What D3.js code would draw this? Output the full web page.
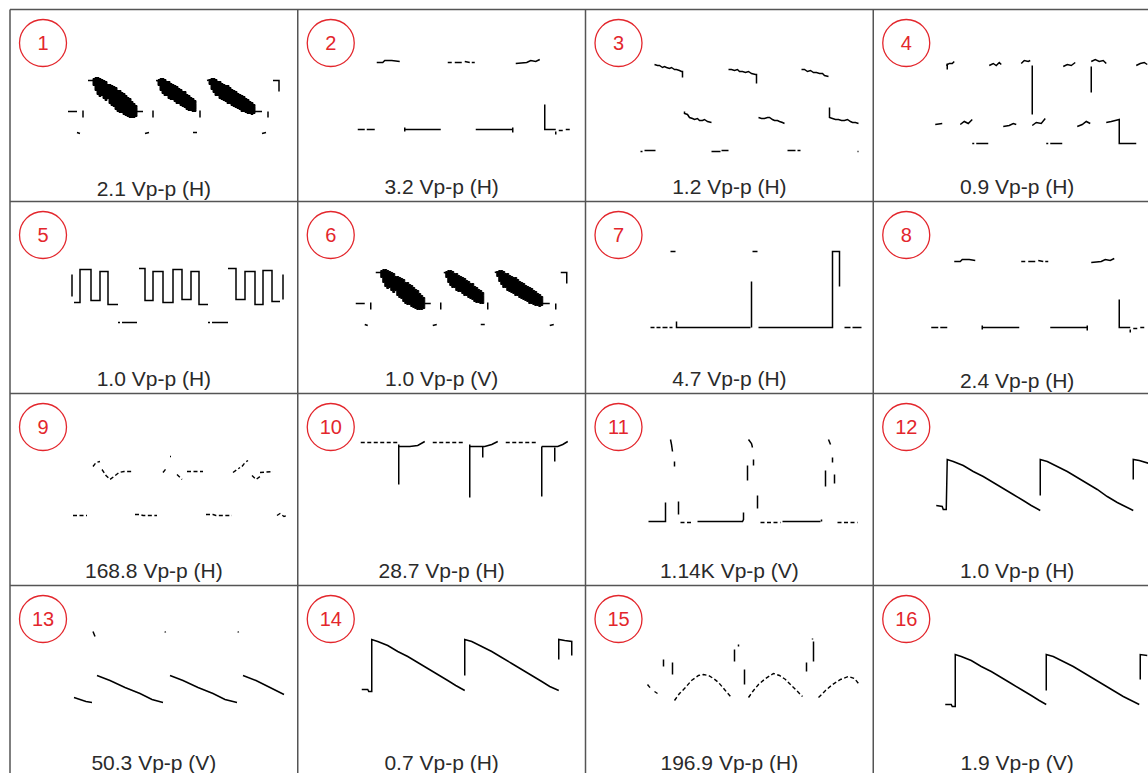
<!DOCTYPE html>
<html><head><meta charset="utf-8">
<script src="https://cdn.jsdelivr.net/npm/d3@7"></script>
<style>html,body{margin:0;padding:0;background:#fff;} svg{display:block;}</style>
</head><body><svg id="c" width="1148" height="773"></svg>
<script>
// ---------- DATA (time units 0..220, level units 0..120 per panel) ----------
const panelIds = d3.range(1, 17);
const panelLabels = ["2.1 Vp-p (H)", "3.2 Vp-p (H)", "1.2 Vp-p (H)", "0.9 Vp-p (H)",
  "1.0 Vp-p (H)", "1.0 Vp-p (V)", "4.7 Vp-p (H)", "2.4 Vp-p (H)",
  "168.8 Vp-p (H)", "28.7 Vp-p (H)", "1.14K Vp-p (V)", "1.0 Vp-p (H)",
  "50.3 Vp-p (V)", "0.7 Vp-p (H)", "196.9 Vp-p (H)", "1.9 Vp-p (V)"];

// noisy bursts: [t, top level, bottom level]
const bursts1 = [
  [[23,91,84],[25,92,79],[27,92,75],[29,91,73],[31,90,74],[33,89,71],[35,88,69],[37,85,71],[39,85,66],[41,84,64],[43,83,63],[45,82,60],[47,79,58],[49,79,57],[51,77,57],[53,76,55],[55,74,54],[57,72,53],[59,71,52],[61,68,52],[63,66,52],[65,64,53],[67,62,55]],
  [[88,90,84],[90,91,79],[92,91,76],[94,90,74],[96,88,74],[98,88,71],[100,86,70],[102,85,70],[104,84,68],[106,83,66],[108,81,66],[110,80,64],[112,78,63],[114,78,62],[116,75,60],[118,74,59],[120,72,59],[122,71,58],[124,69,58],[126,66,60]],
  [[139,90,85],[141,91,80],[143,91,77],[145,90,74],[147,88,74],[149,88,71],[151,86,70],[153,85,69],[155,84,68],[157,84,66],[159,82,66],[161,80,64],[163,79,63],[165,78,62],[167,76,61],[169,75,60],[171,74,58],[173,73,58],[175,71,57],[177,70,56],[179,68,56],[181,67,55],[183,65,56],[185,63,58]]
];
const bursts6 = [
  [[23,91,84],[25,92,79],[27,92,75],[29,91,73],[31,90,74],[33,89,71],[35,88,69],[37,85,71],[39,85,66],[41,84,64],[43,83,63],[45,82,60],[47,79,58],[49,79,57],[51,77,57],[53,76,55],[55,74,54],[57,72,53],[59,71,52],[61,68,52],[63,66,52],[65,64,53],[67,62,55]],
  [[88,90,84],[90,91,79],[92,91,76],[94,90,74],[96,88,74],[98,88,71],[100,86,70],[102,85,70],[104,84,68],[106,83,66],[108,81,66],[110,80,64],[112,78,63],[114,78,62],[116,75,60],[118,74,59],[120,72,59],[122,71,58],[124,69,58],[126,66,60]],
  [[139,90,85],[141,91,80],[143,91,77],[145,90,74],[147,88,74],[149,88,71],[151,86,70],[153,85,69],[155,84,68],[157,84,66],[159,82,66],[161,80,64],[163,79,63],[165,78,62],[167,76,61],[169,75,60],[171,74,58],[173,73,58],[175,71,57],[177,70,56],[179,68,56],[181,67,55],[183,65,56],[185,63,58]]
];

const trace1 = [
  [[-2,58],[7,58]], [[13,59],[13,52]], [[18,89],[25,89]], [[67,58],[73,58]], [[83,59],[83,52]],
  [[86,89],[92,88]], [[130,59],[130,52]], [[137,89],[141,90]], [[184,58],[192,58]], [[198,58],[198,52]],
  [[203,89],[209,89],[209,78]], [[7,37],[10,36]], [[75,36],[79,37]], [[123,37],[127,37]], [[192,36],[196,37]]
];
const trace2 = [
  [[19,107],[25,107],[27,109],[34,109],[42,108]],
  [[90,107],[94,107]], [[97,107],[104,107]], [[107,108],[112,107]], [[114,107],[117,107]],
  [[158,106],[169,107],[173,109],[178,108],[182,110]],
  [[0,40],[7,40]], [[9,40],[17,40]],
  [[47,42],[47,38]], [[47,40],[83,40]],
  [[118,40],[155,40]], [[155,42],[155,37]],
  [[187,65],[187,40],[198,40]], [[201,39],[205,39]], [[208,40],[212,40]], [[198,38],[198,35]]
];
const trace3 = [
  [[9,105],[12,104],[14,104],[17,102],[19,103],[21,102],[24,101],[26,102],[29,100],[31,100],[34,99],[36,98],[37,98],[37,92]],
  [[83,100],[86,100],[89,99],[92,100],[94,98],[97,98],[100,97],[103,98],[106,96],[110,95],[111,95],[111,86]],
  [[156,100],[159,100],[162,98],[165,99],[168,97],[171,97],[174,96],[177,96],[179,94],[183,93]],
  [[39,58],[39,56],[42,55],[44,52],[47,51],[49,50],[52,51],[54,49],[57,49],[59,50],[62,48],[66,47]],
  [[113,52],[116,51],[119,51],[122,52],[124,52],[127,50],[129,49],[132,49],[134,48],[137,47],[139,46]],
  [[184,62],[184,52],[187,51],[190,50],[193,50],[196,49],[199,49],[202,50],[205,48],[207,47],[210,47],[213,46]],
  [[-5,18],[-3,18]], [[-1,19],[10,19]], [[66,18],[75,18]], [[76,19],[83,19]],
  [[142,19],[150,19]], [[152,19],[155,19]], [[212,18],[213,18]]
];
const trace4 = [
  [[13,104],[16,106],[19,106],[21,108]], [[14,106],[14,100]],
  [[56,104],[60,106],[63,104],[66,107],[68,105]],
  [[88,106],[91,109],[95,108],[97,109]], [[99,104],[99,55]],
  [[130,103],[134,105],[138,104],[142,107]],
  [[158,108],[162,110],[166,108],[170,109],[173,106]], [[158,103],[158,77]],
  [[203,104],[207,106],[211,107],[214,105]],
  [[2,45],[9,46]], [[27,45],[31,48],[35,46],[39,50]], [[70,43],[76,44],[80,46],[83,45]],
  [[99,44],[103,47],[108,46],[112,51]], [[144,43],[149,45],[153,48],[157,46]],
  [[173,47],[178,48],[182,49],[186,50],[186,26],[203,26]],
  [[39,26],[41,26]], [[43,26],[55,26]], [[113,26],[115,26]], [[117,26],[129,26]]
];
const trace5 = [
  [[2,87],[2,65]],
  [[4,59],[10,59],[10,92],[21,92],[21,61],[30,61],[30,90],[38,90],[38,57],[48,57]],
  [[69,93],[75,93],[75,61],[83,61],[83,90],[93,90],[93,59],[103,59],[103,92],[112,92],[112,62],[121,62],[121,90],[129,90],[129,57],[138,57]],
  [[158,93],[166,93],[166,62],[175,62],[175,90],[185,90],[185,57],[193,57],[193,91],[202,91],[202,60],[210,60]],
  [[213,62],[213,87]],
  [[48,39],[50,39]], [[52,39],[67,39]], [[138,39],[140,39]], [[142,39],[158,39]]
];
const trace6 = [
  [[-2,58],[7,58]], [[13,59],[13,52]], [[18,89],[25,89]], [[67,58],[73,58]], [[83,59],[83,52]],
  [[86,89],[92,88]], [[130,59],[130,52]], [[137,89],[141,90]], [[184,58],[192,58]], [[198,58],[198,52]],
  [[203,89],[209,89],[209,78]], [[7,37],[10,36]], [[75,36],[79,37]], [[123,37],[127,37]], [[192,36],[196,37]]
];
const trace7 = [
  [[5,34],[9,34]], [[11,34],[15,34]], [[17,34],[22,34]], [[24,34],[27,34]],
  [[31,40],[31,34],[105,34]], [[106,80],[106,34]],
  [[113,34],[187,34],[187,110],[194,110],[194,75]],
  [[199,34],[205,34]], [[207,34],[216,34]],
  [[25,110],[30,110]], [[107,110],[112,110]]
];
const trace8 = [
  [[21,100],[27,100],[29,102],[36,102],[42,101]],
  [[88,100],[92,100]], [[95,100],[102,100]], [[105,101],[110,100]], [[112,100],[115,100]],
  [[158,99],[168,100],[172,102],[177,101],[181,103]],
  [[-2,34],[5,34]], [[7,34],[14,34]],
  [[49,36],[49,32]], [[49,34],[86,34]],
  [[117,34],[154,34]], [[154,36],[154,31]],
  [[186,62],[186,34],[197,34]], [[200,33],[204,33]], [[207,34],[211,34]], [[197,32],[197,29]]
];
const trace9 = [];
const dotted9 = [
  [[23,87],[26,91],[30,92]], [[32,84],[36,78],[40,74],[44,77],[49,81],[54,82],[63,82]],
  [[100,97],[101,97]], [[93,81],[97,86]], [[107,79],[112,74]], [[117,82],[133,82]],
  [[172,87],[175,91],[178,93]], [[163,81],[170,86]], [[182,78],[186,74],[190,77]], [[190,81],[203,82]],
  [[3,38],[17,38]], [[65,39],[70,39],[73,38],[87,38]], [[136,39],[143,39],[146,38],[162,38]],
  [[207,38],[210,40],[214,37],[217,38]]
];
const trace10 = [
  [[41,109],[41,69]], [[41,107],[52,107],[60,108],[67,112]],
  [[112,109],[112,56]], [[112,107],[127,107],[134,109],[140,112]], [[125,107],[125,96]],
  [[184,107],[184,57]], [[184,107],[200,107],[205,109],[210,112]], [[197,106],[197,92]]
];
const dotted10 = [[[3,111],[40,111]], [[75,111],[107,111]], [[148,111],[180,111]]];
const trace11 = [
  [[3,32],[20,32],[20,51]], [[33,52],[33,39]],
  [[52,32],[97,32],[98,34],[98,41]], [[112,58],[112,45]],
  [[137,32],[175,32]], [[176,34],[176,32]],
  [[25,114],[26,109],[27,102]], [[29,92],[29,87]],
  [[103,114],[106,110],[107,106]], [[108,94],[108,88]], [[102,88],[102,73]],
  [[183,114],[185,109]], [[187,96],[187,91]], [[180,83],[180,67]], [[189,79],[189,70]]
];
const dotted11 = [[[35,31],[48,31]], [[115,31],[135,31]], [[192,31],[212,31]]];
const trace12 = [
  [[3,48],[9,47],[10,44],[13,44],[14,94],[20,92],[30,88],[40,82],[50,77],[60,71],[70,65],[80,59],[90,53],[98,48],[107,43]],
  [[107,58],[107,94],[114,92],[124,87],[134,82],[144,76],[154,70],[164,64],[174,57],[184,51],[192,47],[200,43]],
  [[200,74],[200,94],[206,93],[216,90]]
];
const trace13 = [
  [[23,114],[25,109]], [[95,114],[95.5,113]], [[168,114],[168.5,113]],
  [[4,48],[10,46],[16,44],[22,43]],
  [[27,70],[40,65],[55,58],[70,52],[82,46],[93,43]],
  [[100,70],[113,65],[128,58],[143,52],[155,46],[167,43]],
  [[173,70],[186,65],[200,58],[214,51]]
];
const trace14 = [
  [[4,56],[10,56],[11,54],[14,54],[14,106],[20,104],[30,100],[40,94],[50,89],[60,83],[70,77],[80,71],[90,65],[98,60],[107,55]],
  [[107,70],[107,106],[114,104],[124,99],[134,94],[144,88],[154,82],[164,76],[174,70],[184,64],[192,59],[201,55]],
  [[201,86],[201,106],[207,105],[214,104],[214,90]]
];
const trace15 = [
  [[18,86],[18,79]], [[27,83],[27,71]], [[89,96],[89,84]], [[93,101],[93,99]], [[99,76],[99,61]],
  [[161,83],[161,74]], [[168,104],[168,84]], [[167,107],[167,106]]
];
const dotted15 = [
  [[2,61],[6,56]], [[9,54],[12,52]],
  [[29,45],[34,52],[40,58],[46,65],[53,70],[58,71],[63,70],[68,67],[73,63],[79,56],[85,49]],
  [[103,48],[108,55],[113,61],[120,67],[128,72],[134,70],[140,66],[148,58],[157,49]],
  [[173,48],[180,55],[187,61],[195,66],[203,69],[209,67],[213,62]]
];
const trace16 = [
  [[12,41],[18,41],[19,39],[22,39],[22,91],[28,89],[38,85],[48,79],[58,74],[68,68],[78,62],[88,56],[98,50],[106,45],[113,41]],
  [[113,55],[113,91],[120,89],[130,84],[140,79],[150,73],[160,67],[170,61],[180,55],[190,49],[198,45],[206,41]],
  [[207,66],[207,91],[214,90]]
];

const solidTraces = [trace1,trace2,trace3,trace4,trace5,trace6,trace7,trace8,trace9,trace10,trace11,trace12,trace13,trace14,trace15,trace16];
const dottedTraces = [[],[],[],[],[],[],[],[],dotted9,dotted10,dotted11,[],[],[],dotted15,[]];
const burstTraces = [bursts1,[],[],[],[],bursts6,[],[],[],[],[],[],[],[],[],[]];

// ---------- LAYOUT ----------
const gridX0 = 10, gridY0 = 9.5, cellW = 287.75, cellH = 192;
const labelDy = [2.5,0,0,0, 0,0,0,2.5, 0,0,0,0, 0,0,0,0];
const svg = d3.select("#c");
const defs = svg.append("defs");
const red = "#e3262c";
const font = "Liberation Sans, Arial, sans-serif";

const panels = panelIds.map((id, i) => ({
  id, col: i % 4, row: Math.floor(i / 4), label: panelLabels[i], dy: labelDy[i],
  solid: solidTraces[i], dotted: dottedTraces[i], bursts: burstTraces[i]
}));

panels.forEach(p => {
  const L = gridX0 + p.col * cellW, T = gridY0 + p.row * cellH;
  defs.append("clipPath").attr("id", "clip" + p.id)
    .append("rect").attr("x", L).attr("y", T).attr("width", cellW).attr("height", cellH);
  const x = d3.scaleLinear().domain([0, 220]).range([L + 60, L + 280]);
  const y = d3.scaleLinear().domain([0, 120]).range([T + 160, T + 40]);
  const line = d3.line().x(d => x(d[0])).y(d => y(d[1]));
  const area = d3.area().x(d => x(d[0])).y0(d => y(d[2])).y1(d => y(d[1])).curve(d3.curveStepAfter);
  const g = svg.append("g").attr("clip-path", `url(#clip${p.id})`);
  g.selectAll("path.burst").data(p.bursts).join("path").attr("class", "burst")
    .attr("d", area).attr("fill", "#000").attr("stroke", "#000").attr("stroke-width", 1);
  g.selectAll("path.solid").data(p.solid).join("path").attr("class", "solid")
    .attr("d", line).attr("fill", "none").attr("stroke", "#000").attr("stroke-width", 1.5);
  g.selectAll("path.dotted").data(p.dotted).join("path").attr("class", "dotted")
    .attr("d", line).attr("fill", "none").attr("stroke", "#000").attr("stroke-width", 1.4)
    .attr("stroke-dasharray", "4,2.5");

  // badge
  svg.append("circle").attr("cx", L + 33).attr("cy", T + 33.5).attr("r", 23.5)
    .attr("fill", "none").attr("stroke", red).attr("stroke-width", 1.3);
  svg.append("text").attr("x", L + 33).attr("y", T + 33.5).attr("dy", "0.36em")
    .attr("text-anchor", "middle").attr("font-family", font)
    .attr("font-size", 20).attr("fill", red).text(p.id);
  // label
  svg.append("text").attr("x", L + cellW / 2).attr("y", T + 184 + p.dy)
    .attr("text-anchor", "middle").attr("font-family", font)
    .attr("font-size", 21).attr("fill", "#2a2a2a").text(p.label);
});

// grid
const gridCols = d3.range(5), gridRows = d3.range(5);
svg.selectAll("line.v").data(gridCols).join("line").attr("class", "v")
  .attr("x1", d => gridX0 + d * cellW).attr("x2", d => gridX0 + d * cellW)
  .attr("y1", gridY0).attr("y2", gridY0 + 4 * cellH)
  .attr("stroke", "#555").attr("stroke-width", 1.5);
svg.selectAll("line.h").data(gridRows).join("line").attr("class", "h")
  .attr("y1", d => gridY0 + d * cellH).attr("y2", d => gridY0 + d * cellH)
  .attr("x1", gridX0).attr("x2", gridX0 + 4 * cellW)
  .attr("stroke", "#555").attr("stroke-width", 1.5);
</script></body></html>
